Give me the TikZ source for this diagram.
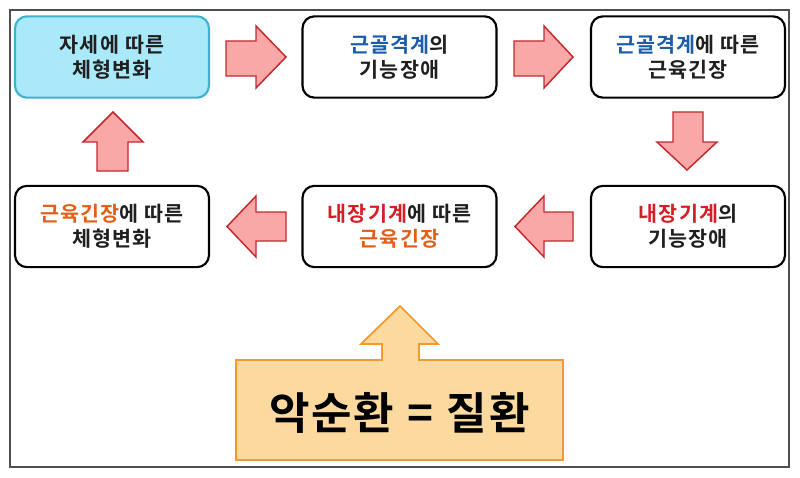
\documentclass[tikz,border=0pt]{standalone}
\usepackage{fontspec}
\setmainfont{Noto Sans CJK KR}
\newfontfamily\kobold[LetterSpace=6]{Noto Sans CJK KR Bold}
\newfontfamily\kobig[LetterSpace=4]{Noto Sans CJK KR Bold}
\definecolor{cyanfill}{HTML}{A9E9F9}
\definecolor{cyanline}{HTML}{3FB3CB}
\definecolor{arrfill}{HTML}{F9A7A7}
\definecolor{arrline}{HTML}{C3282D}
\definecolor{kblue}{HTML}{1C5CA8}
\definecolor{kred}{HTML}{D41F26}
\definecolor{korange}{HTML}{E0601A}
\definecolor{orfill}{HTML}{FCD99E}
\definecolor{orline}{HTML}{F29A2E}
\definecolor{framegray}{HTML}{4F4F4F}
\tikzset{
  box/.style={draw=black, line width=1.6pt, rounded corners=9pt, fill=white,
    minimum width=145.5pt, minimum height=61pt, inner sep=0pt,
    font=\kobold\fontsize{15.5}{19}\selectfont, align=center, text=black!88},
  startbox/.style={box, fill=cyanfill, draw=cyanline},
  blockarrow/.style={fill=arrfill, draw=arrline, line width=1.1pt, line join=miter},
  bigarrow/.style={fill=orfill, draw=orline, line width=1.3pt, line join=miter},
}
\begin{document}
\begin{tikzpicture}[x=0.75pt, y=-0.75pt]
\useasboundingbox (0,0) rectangle (800,478);
\fill[white] (0,0) rectangle (800,478);
\draw[framegray, line width=1.1pt] (10,10) rectangle (789,467);

% boxes
\node[startbox] (b1) at (112,57) {자세에 따른\\체형변화};
\node[box] (b2) at (399.5,57) {\textcolor{kblue}{근골격계}의\\기능장애};
\node[box] (b3) at (688,57) {\textcolor{kblue}{근골격계}에 따른\\근육긴장};
\node[box] (b4) at (112,226.5) {\textcolor{korange}{근육긴장}에 따른\\체형변화};
\node[box] (b5) at (399.5,226.5) {\textcolor{kred}{내장기계}에 따른\\\textcolor{korange}{근육긴장}};
\node[box] (b6) at (688,226.5) {\textcolor{kred}{내장기계}의\\기능장애};

% right arrows
\draw[blockarrow] (226,41) -- (256,41) -- (256,26) -- (286,57) -- (256,88) -- (256,76) -- (226,76) -- cycle;
\draw[blockarrow] (514,41) -- (544,41) -- (544,26) -- (573,57) -- (544,88) -- (544,76) -- (514,76) -- cycle;
% down arrow
\draw[blockarrow] (673,112) -- (703,112) -- (703,142) -- (717,142) -- (687,170) -- (657,142) -- (673,142) -- cycle;
% left arrows
\draw[blockarrow] (573,212) -- (544,212) -- (544,196) -- (515,226.5) -- (544,257) -- (544,241) -- (573,241) -- cycle;
\draw[blockarrow] (286,212) -- (256,212) -- (256,196) -- (227,226.5) -- (256,257) -- (256,241) -- (286,241) -- cycle;
% up arrow
\draw[blockarrow] (97,171) -- (128,171) -- (128,142) -- (143,142) -- (113,112) -- (83,142) -- (97,142) -- cycle;

% big orange shape
\draw[bigarrow] (236,360) -- (382,360) -- (382,344) -- (361,344) -- (400,306) -- (438,344) -- (419,344) -- (419,360) -- (563,360) -- (563,460) -- (236,460) -- cycle;
\node[font=\kobig\fontsize{33}{38}\selectfont, text=black] (big) at (399.5,413) {악순환\hspace{10pt}=\hspace{10pt}질환};
\end{tikzpicture}
\end{document}
